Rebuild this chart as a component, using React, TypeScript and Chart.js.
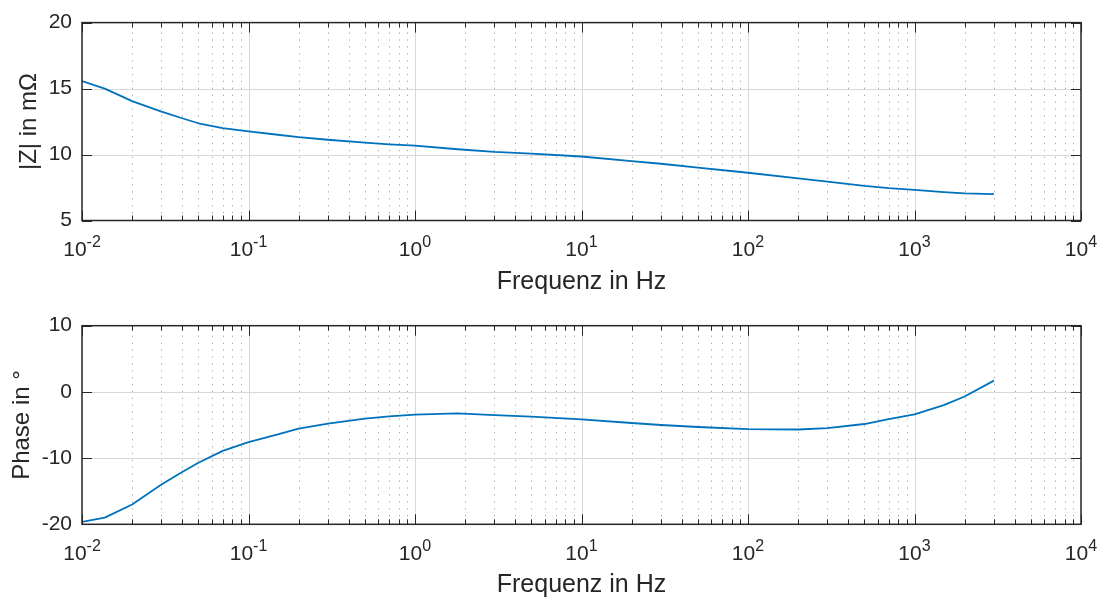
import React, { useEffect, useRef } from 'react';
import { Chart, registerables } from 'chart.js';

Chart.register(...registerables);

// ---- data ----
const frequencies = [0.01, 0.0137, 0.02, 0.03, 0.04, 0.05, 0.07, 0.1, 0.15, 0.2, 0.3, 0.5, 0.7, 1, 1.8, 3, 5, 10, 20, 30, 50, 100, 200, 300, 500, 700, 1000, 1500, 2000, 3000];
const magnitude = [15.57, 15.0, 14.05, 13.25, 12.75, 12.37, 12.0, 11.75, 11.5, 11.32, 11.12, 10.9, 10.77, 10.67, 10.4, 10.2, 10.07, 9.85, 9.5, 9.3, 9.0, 8.62, 8.2, 7.95, 7.62, 7.45, 7.32, 7.15, 7.05, 7.0];
const phase = [-19.65, -19.0, -17.0, -14.0, -12.1, -10.7, -8.9, -7.6, -6.4, -5.55, -4.8, -4.03, -3.7, -3.42, -3.23, -3.5, -3.75, -4.14, -4.7, -5.0, -5.3, -5.62, -5.68, -5.48, -4.85, -4.1, -3.4, -2.0, -0.7, 1.7];
const xTickExponents = [-2, -1, 0, 1, 2, 3, 4];
const magTicks = [5, 10, 15, 20];
const phaseTicks = [-20, -10, 0, 10];
const xTitle = 'Frequenz in Hz';
const magTitle = '|Z| in mΩ';
const phaseTitle = 'Phase in °';

const FONT = '"Liberation Sans", Arial, Helvetica, sans-serif';
const AXIS = '#262626';
const LINE = '#0072BD';

function makeAxesPlugin(yTicks: number[]) {
  return {
    id: 'matlabAxes',
    beforeDatasetsDraw(chart: any) {
      const { ctx, chartArea: a, scales } = chart;
      const xs = scales.x;
      const ys = scales.y;
      const e0 = xTickExponents[0];
      const e1 = xTickExponents[xTickExponents.length - 1];
      ctx.save();
      // minor dotted grid
      ctx.strokeStyle = '#a9a9a9';
      ctx.lineWidth = 1;
      ctx.setLineDash([1.3, 5.6]);
      for (let e = e0; e < e1; e++) {
        for (let m = 2; m <= 9; m++) {
          const px = Math.round(xs.getPixelForValue(m * Math.pow(10, e))) + 0.5;
          ctx.beginPath();
          ctx.moveTo(px, a.top + 3);
          ctx.lineTo(px, a.bottom);
          ctx.stroke();
        }
      }
      // major grid
      ctx.setLineDash([]);
      ctx.strokeStyle = '#d8d8d8';
      for (let i = 1; i < xTickExponents.length - 1; i++) {
        const px = Math.round(xs.getPixelForValue(Math.pow(10, xTickExponents[i]))) + 0.5;
        ctx.beginPath();
        ctx.moveTo(px, a.top);
        ctx.lineTo(px, a.bottom);
        ctx.stroke();
      }
      for (let i = 1; i < yTicks.length - 1; i++) {
        const py = Math.round(ys.getPixelForValue(yTicks[i])) + 0.5;
        ctx.beginPath();
        ctx.moveTo(a.left, py);
        ctx.lineTo(a.right, py);
        ctx.stroke();
      }
      ctx.restore();
    },
    afterDatasetsDraw(chart: any) {
      const { ctx, chartArea: a, scales } = chart;
      const xs = scales.x;
      const ys = scales.y;
      const e0 = xTickExponents[0];
      const e1 = xTickExponents[xTickExponents.length - 1];
      ctx.save();
      ctx.strokeStyle = AXIS;
      ctx.lineWidth = 1;
      // x ticks (inward, top and bottom)
      for (let e = e0; e <= e1; e++) {
        for (let m = 1; m <= 9; m++) {
          if (e === e1 && m > 1) break;
          const len = m === 1 ? 10 : 5;
          const px = Math.round(xs.getPixelForValue(m * Math.pow(10, e))) + 0.5;
          ctx.beginPath();
          ctx.moveTo(px, a.bottom);
          ctx.lineTo(px, a.bottom - len);
          ctx.moveTo(px, a.top);
          ctx.lineTo(px, a.top + len);
          ctx.stroke();
        }
      }
      // y ticks (inward, left and right)
      for (const t of yTicks) {
        const py = Math.round(ys.getPixelForValue(t)) + 0.5;
        ctx.beginPath();
        ctx.moveTo(a.left, py);
        ctx.lineTo(a.left + 10, py);
        ctx.moveTo(a.right, py);
        ctx.lineTo(a.right - 10, py);
        ctx.stroke();
      }
      // box
      ctx.lineWidth = 1.5;
      ctx.strokeRect(a.left, a.top, a.right - a.left, a.bottom - a.top);
      // x tick labels with superscript exponents
      ctx.fillStyle = AXIS;
      ctx.textBaseline = 'alphabetic';
      ctx.textAlign = 'left';
      for (const e of xTickExponents) {
        const cx = xs.getPixelForValue(Math.pow(10, e));
        ctx.font = `21px ${FONT}`;
        const wb = ctx.measureText('10').width;
        ctx.font = `16px ${FONT}`;
        const exp = String(e);
        const we = ctx.measureText(exp).width;
        const x0 = cx - (wb + we) / 2;
        const base = a.bottom + 35.7;
        ctx.font = `21px ${FONT}`;
        ctx.fillText('10', x0, base);
        ctx.font = `16px ${FONT}`;
        ctx.fillText(exp, x0 + wb, base - 9);
      }
      ctx.restore();
    },
  };
}

type PanelProps = {
  top: number;
  height: number;
  values: number[];
  yTicks: number[];
  yTitle: string;
  padTop: number;
  xAxisHeight: number;
  xTitlePadBottom: number;
  yTitlePadTop: number;
};

function Panel(p: PanelProps) {
  const ref = useRef<HTMLCanvasElement>(null);
  useEffect(() => {
    const yMin = p.yTicks[0];
    const yMax = p.yTicks[p.yTicks.length - 1];
    const chart = new Chart(ref.current as HTMLCanvasElement, {
      type: 'line',
      data: {
        datasets: [
          {
            data: frequencies.map((f, i) => ({ x: f, y: p.values[i] })),
            borderColor: LINE,
            borderWidth: 1.8,
            pointRadius: 0,
            fill: false,
            tension: 0,
            borderJoinStyle: 'round',
          },
        ],
      },
      options: {
        animation: false,
        responsive: false,
        devicePixelRatio: 1,
        events: [],
        layout: { padding: { left: 0, right: 28, top: p.padTop, bottom: 0 } },
        plugins: { legend: { display: false }, tooltip: { enabled: false } },
        scales: {
          x: {
            type: 'logarithmic',
            min: 0.01,
            max: 10000,
            ticks: { display: false },
            grid: { display: false, drawTicks: false },
            border: { display: false },
            title: {
              display: true,
              text: xTitle,
              color: AXIS,
              font: { family: FONT, size: 25 },
              padding: { top: 0, bottom: p.xTitlePadBottom },
            },
            afterFit: (s: any) => {
              s.height = p.xAxisHeight;
            },
          },
          y: {
            type: 'linear',
            min: yMin,
            max: yMax,
            ticks: {
              stepSize: p.yTicks[1] - p.yTicks[0],
              color: AXIS,
              font: { family: FONT, size: 21 },
              padding: 10,
            },
            grid: { display: false, drawTicks: false },
            border: { display: false },
            title: {
              display: true,
              text: p.yTitle,
              color: AXIS,
              font: { family: FONT, size: 24 },
              padding: { top: p.yTitlePadTop, bottom: 0 },
            },
            afterFit: (s: any) => {
              s.width = 82;
            },
          },
        },
      } as any,
      plugins: [makeAxesPlugin(p.yTicks)],
    });
    return () => chart.destroy();
  }, []);
  return (
    <canvas
      ref={ref}
      width={1109}
      height={p.height}
      style={{ position: 'absolute', left: 0, top: p.top, width: 1109, height: p.height, display: 'block' }}
    />
  );
}

export default function App() {
  return (
    <div style={{ position: 'absolute', left: 0, top: 0, width: 1109, height: 599, background: '#ffffff', overflow: 'hidden' }}>
      <Panel top={0} height={300} values={magnitude} yTicks={magTicks} yTitle={magTitle} padTop={20} xAxisHeight={79.5} xTitlePadBottom={3} yTitlePadTop={14.5} />
      <Panel top={300} height={301} values={phase} yTicks={phaseTicks} yTitle={phaseTitle} padTop={25.7} xAxisHeight={76.7} xTitlePadBottom={0.5} yTitlePadTop={7.7} />
    </div>
  );
}
